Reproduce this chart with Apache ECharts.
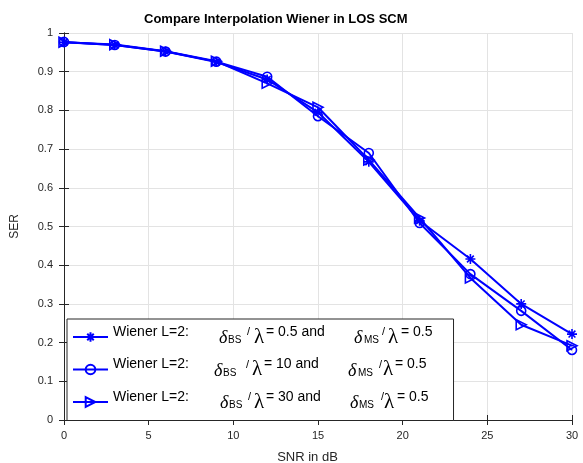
<!DOCTYPE html>
<html><head><meta charset="utf-8">
<script src="https://cdn.jsdelivr.net/npm/echarts@6/dist/echarts.min.js"></script>
<style>html,body{margin:0;padding:0;background:#fff}#c{width:583px;height:463px}</style>
</head><body><div id="c"></div>
<script>
// ---- data ----
const snr = [0, 3, 6, 9, 12, 15, 18, 21, 24, 27, 30];
const serBS05 = [0.976, 0.969, 0.952, 0.925, 0.880, 0.795, 0.667, 0.515, 0.416, 0.300, 0.222];
const serBS10 = [0.977, 0.969, 0.952, 0.926, 0.887, 0.785, 0.690, 0.509, 0.377, 0.282, 0.181];
const serBS30 = [0.976, 0.970, 0.953, 0.927, 0.870, 0.808, 0.672, 0.522, 0.367, 0.246, 0.192];
const bsRatios = ['0.5', '10', '30'];
const msRatio = '0.5';
const titleText = 'Compare Interpolation Wiener in LOS SCM';
const xName = 'SNR in dB';
const yName = 'SER';

// ---- styling ----
const BLUE = '#0000ff';
const AX = '#262626';
const FONT = 'Liberation Sans, Arial, sans-serif';
const SERIF = 'Liberation Serif, Times New Roman, serif';

const seriesNames = bsRatios.map(r => 'Wiener L=2: δBS/λ = ' + r + ' and δMS/λ = ' + msRatio);
const seriesData = [serBS05, serBS10, serBS30];
const symbols = [
  'path://M0,5 L10,5 M5,0 L5,10 M1.6,1.6 L8.4,8.4 M1.6,8.4 L8.4,1.6',
  'circle',
  'path://M0,0 L10,5 L0,10 Z'
];
const symbolSizes = [10, 9, 10];

// legend token layout (widths in px) per row
const tokenBase = ['w', 'd', 's', 'sl', 'l', 't', 'd', 's', 'sl', 'l', 't'];
const tokenWidths = [
  [106, 9, 19, 7, 12, 88, 10, 18, 6, 13, 50],
  [101, 9, 23, 6, 12, 84, 10, 21, 4, 12, 55],
  [107, 9, 19, 6, 12, 84, 9, 22, 3, 13, 53]
];
const baseStyles = {
  w: { fontSize: 14, fontFamily: FONT, color: '#000', padding: [0, 0, 10, 0] },
  t: { fontSize: 14, fontFamily: FONT, color: '#000', padding: [0, 0, 10, 0] },
  d: { fontSize: 18, fontFamily: SERIF, fontStyle: 'italic', color: '#000', padding: [3, 0, 0, 0] },
  s: { fontSize: 10, fontFamily: FONT, color: '#000', padding: [7, 0, 0, 0] },
  sl: { fontSize: 11, fontFamily: FONT, color: '#000', padding: [0, 0, 10, 0] },
  l: { fontSize: 21, fontFamily: SERIF, color: '#000', padding: [0, 0, 0, 0] }
};
const rich = {};
const rowTexts = bsRatios.map(r => ['Wiener L=2:', 'δ', 'BS', '/', 'λ', '= ' + r + ' and', 'δ', 'MS', '/', 'λ', '= ' + msRatio]);
const formatted = {};
rowTexts.forEach((texts, row) => {
  let s = '';
  texts.forEach((txt, i) => {
    const key = tokenBase[i] + row + '_' + i;
    rich[key] = Object.assign({}, baseStyles[tokenBase[i]], { width: tokenWidths[row][i] });
    s += '{' + key + '|' + txt + '}';
  });
  formatted[seriesNames[row]] = s;
});

const chart = echarts.init(document.getElementById('c'), null, { renderer: 'canvas' });

const axisCommon = {
  axisLine: { show: true, lineStyle: { color: AX, width: 1 } },
  axisTick: { show: true, inside: true, length: 5, lineStyle: { color: AX, width: 1 } },
  splitLine: { show: false }
};

chart.setOption({
  animation: false,
  backgroundColor: '#fff',
  title: {
    text: titleText,
    left: 139, top: 8,
    textStyle: { fontSize: 13, fontWeight: 'bold', fontFamily: FONT, color: '#000' }
  },
  grid: { left: 64, right: 11, top: 33, bottom: 43, containLabel: false, outerBoundsMode: 'none' },
  xAxis: [
    Object.assign({}, axisCommon, {
      type: 'value', min: 0, max: 30, interval: 5, position: 'bottom',
      name: xName, nameLocation: 'middle', nameGap: 31,
      nameTextStyle: { fontSize: 13, fontFamily: FONT, color: AX, padding: [0, 21, 0, 0] },
      axisLabel: { show: true, fontSize: 11, fontFamily: FONT, color: AX, margin: 10 },
      splitLine: { show: true, lineStyle: { color: '#e3e3e3', width: 1 } }
    }),
    Object.assign({}, axisCommon, {
      type: 'value', min: 0, max: 30, interval: 5, position: 'top',
      axisLabel: { show: false }
    })
  ],
  yAxis: [
    Object.assign({}, axisCommon, {
      type: 'value', min: 0, max: 1, interval: 0.1, position: 'left',
      name: yName, nameLocation: 'middle', nameGap: 43,
      nameTextStyle: { fontSize: 12, fontFamily: FONT, color: AX },
      axisLabel: { show: true, fontSize: 11, fontFamily: FONT, color: AX, margin: 11 },
      splitLine: { show: true, lineStyle: { color: '#e3e3e3', width: 1 } }
    }),
    Object.assign({}, axisCommon, {
      type: 'value', min: 0, max: 1, interval: 0.1, position: 'right',
      axisLabel: { show: false }
    })
  ],
  legend: {
    orient: 'vertical',
    left: 67, top: 319,
    padding: [6, 21, 8, 5],
    itemGap: 10,
    itemWidth: 35, itemHeight: 12,
    backgroundColor: '#fff',
    borderColor: AX, borderWidth: 1,
    selectedMode: false,
    data: seriesNames,
    formatter: name => formatted[name],
    textStyle: { rich: rich, fontFamily: FONT, fontSize: 14, color: '#000' }
  },
  series: seriesNames.map((nm, i) => ({
    name: nm,
    type: 'line',
    xAxisIndex: 0, yAxisIndex: 0,
    data: snr.map((x, k) => [x, seriesData[i][k]]),
    symbol: symbols[i],
    symbolSize: symbolSizes[i],
    showAllSymbol: true,
    lineStyle: { color: BLUE, width: 2 },
    itemStyle: { color: 'rgba(0,0,0,0)', borderColor: BLUE, borderWidth: 1.6 },
    emphasis: { disabled: true },
    z: 2 + i
  }))
});
</script>
</body></html>
